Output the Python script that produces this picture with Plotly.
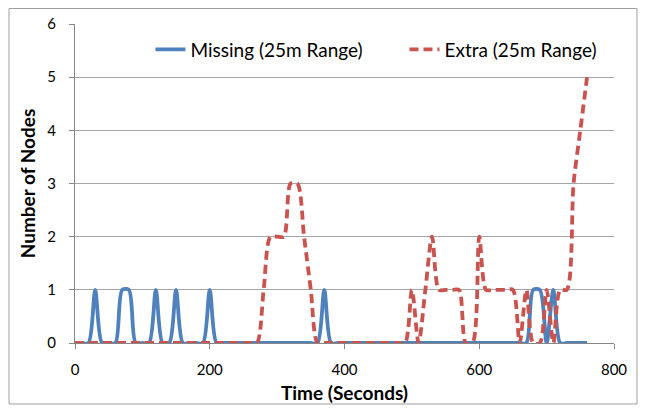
import plotly.graph_objects as go

time_s = [0, 10, 20, 30, 40, 50, 60, 70, 80, 90, 100, 110, 120, 130, 140, 150, 160, 170, 180, 190,
          200, 210, 220, 230, 240, 250, 260, 270, 280, 290, 300, 310, 320, 330, 340, 350, 360, 370, 380, 390,
          400, 410, 420, 430, 440, 450, 460, 470, 480, 490, 500, 510, 520, 530, 540, 550, 560, 570, 580, 590,
          600, 610, 620, 630, 640, 650, 660, 670, 680, 690, 700, 710, 720, 730, 740, 750, 760]

missing = [0, 0, 0, 1, 0, 0, 0, 1, 1, 0, 0, 0, 1, 0, 0, 1, 0, 0, 0, 0,
           1, 0, 0, 0, 0, 0, 0, 0, 0, 0, 0, 0, 0, 0, 0, 0, 0, 1, 0, 0,
           0, 0, 0, 0, 0, 0, 0, 0, 0, 0, 0, 0, 0, 0, 0, 0, 0, 0, 0, 0,
           0, 0, 0, 0, 0, 0, 0, 0, 1, 1, 0, 1, 0, 0, 0, 0, 0]

extra = [0, 0, 0, 0, 0, 0, 0, 0, 0, 0, 0, 0, 0, 0, 0, 0, 0, 0, 0, 0,
         0, 0, 0, 0, 0, 0, 0, 0, 1, 2, 2, 2, 3, 3, 2, 1, 0, 0, 0, 0,
         0, 0, 0, 0, 0, 0, 0, 0, 0, 0, 1, 0, 1, 2, 1, 1, 1, 1, 0, 0,
         2, 1, 1, 1, 1, 1, 0, 1, 0, 0, 1, 0, 1, 1, 3, 4, 5]

y_ticks = [0, 1, 2, 3, 4, 5, 6]
x_ticks = [0, 200, 400, 600, 800]

BLUE = "#4F81BD"
RED = "#C9534F"
FONT = "Lato"

fig = go.Figure()
fig.add_trace(go.Scatter(
    x=time_s, y=missing, mode="lines", name="Missing (25m Range)",
    line=dict(color=BLUE, width=3.8, shape="spline", smoothing=0.8)))
fig.add_trace(go.Scatter(
    x=time_s, y=extra, mode="lines", name="Extra (25m Range)",
    line=dict(color=RED, width=3.8, shape="spline", smoothing=0.8, dash="9px,5px")))

fig.update_layout(
    width=638, height=404,
    margin=dict(l=67, r=32, t=16, b=69, autoexpand=False),
    paper_bgcolor="white", plot_bgcolor="white",
    font=dict(family=FONT, size=15, color="black"),
    legend=dict(orientation="h", x=0.14, y=0.92, xanchor="left", yanchor="middle",
                font=dict(family=FONT, size=19, color="black"),
                bgcolor="rgba(0,0,0,0)", entrywidth=209, entrywidthmode="pixels",
                traceorder="normal"),
    xaxis=dict(range=[0, 800], tickvals=x_ticks, showgrid=False, zeroline=False,
               showline=True, linecolor="#868686", linewidth=1.3,
               ticks="outside", ticklen=5, tickcolor="#868686", ticklabelstandoff=8,
               automargin=False,
               tickfont=dict(family=FONT, size=15, color="black"),
               title=dict(text="<b>Time (Seconds)</b>", standoff=9,
                          font=dict(family=FONT, size=19, color="black"))),
    yaxis=dict(range=[0, 6], tickvals=y_ticks, showgrid=True, gridcolor="#A6A6A6", gridwidth=1,
               zeroline=False, showline=True, linecolor="#868686", linewidth=1.3,
               ticks="outside", ticklen=5, tickcolor="#868686", ticklabelstandoff=10,
               automargin=False,
               tickfont=dict(family=FONT, size=15, color="black"),
               title=dict(text="<b>Number of Nodes</b>", standoff=6,
                          font=dict(family=FONT, size=19, color="black"))),
    shapes=[dict(type="rect", xref="paper", yref="paper",
                 x0=-0.1224, x1=1.0427, y0=-0.1912, y1=1.0486,
                 line=dict(color="#A0A0A0", width=1), layer="below")],
)

fig.write_html("out.html")
